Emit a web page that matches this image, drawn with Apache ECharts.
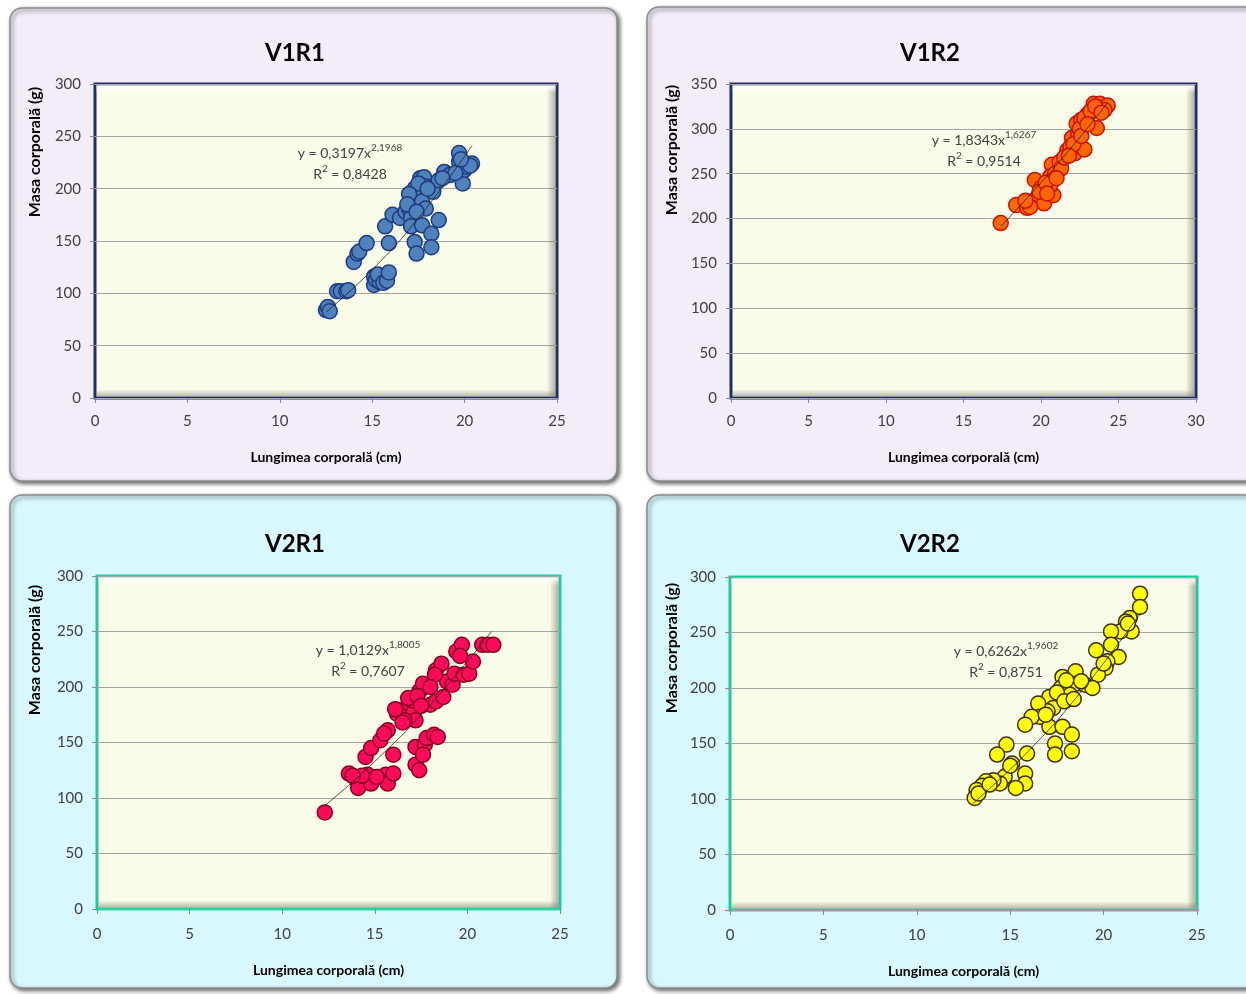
<!DOCTYPE html>
<html><head><meta charset="utf-8">
<script src="https://cdn.jsdelivr.net/npm/echarts@6/dist/echarts.min.js"></script>
<style>html,body{margin:0;padding:0;background:#fff}#c{width:1246px;height:994px}</style>
</head><body><div id="c"></div>
<script>
// ---------- DATA ----------
const panelTitles = ['V1R1', 'V1R2', 'V2R1', 'V2R2'];
const xAxisTitle = 'Lungimea corporală (cm)';
const yAxisTitle = 'Masa corporală (g)';
const xMax = [25, 30, 25, 25];
const yMax = [300, 350, 300, 300];
const eqA = ['0,3197', '1,8343', '1,0129', '0,6262'];
const eqB = ['2,1968', '1,6267', '1,8005', '1,9602'];
const r2 = ['0,8428', '0,9514', '0,7607', '0,8751'];

const v1r1 = [[12.5,84],[12.6,87],[12.7,83],[13.1,102],[13.3,102],[13.6,102],[13.7,103],[14.0,130],[14.2,138],[14.3,140],[14.7,148],[15.1,116],[15.1,108],[15.2,113],[15.4,111],[15.3,118],[15.6,110],[15.8,112],[15.9,120],[15.7,164],[15.9,148],[16.1,175],[16.5,172],[16.8,178],[17.0,181],[17.1,189],[17.1,172],[17.2,196],[17.3,149],[17.4,138],[17.1,164],[17.6,210],[17.8,211],[17.7,188],[17.9,181],[17.9,202],[17.7,165],[18.2,157],[18.2,144],[18.6,170],[18.3,197],[18.6,208],[18.9,216],[19.2,213],[19.7,234],[19.7,226],[19.9,205],[20.0,218],[20.4,224],[20.1,221],[17.3,200],[17.5,205],[17.0,195],[18.0,200],[19.5,215],[20.3,222],[16.9,185],[17.4,178],[19.8,228],[18.8,210]];
const v1r2 = [[17.4,195],[18.4,215],[19.1,212],[19.4,217],[19.7,222],[20.2,217],[20.8,226],[20.6,237],[19.6,243],[20.0,234],[20.7,260],[21.2,263],[21.7,276],[22.2,273],[22.8,277],[22.0,290],[22.4,295],[22.3,306],[22.6,310],[23.0,316],[23.4,328],[23.8,328],[24.3,326],[24.1,321],[23.6,301],[20.6,247],[19.3,213],[19.9,230],[20.3,240],[20.9,250],[21.3,256],[21.5,268],[21.9,280],[22.1,283],[22.5,300],[22.8,312],[23.2,320],[23.5,325],[23.9,318],[21.0,245],[20.4,228],[19.0,220],[21.8,270],[22.6,292],[23.0,305]];
const v2r1 = [[12.3,87],[13.6,122],[14.1,113],[14.1,109],[14.6,121],[14.8,113],[15.2,119],[15.6,121],[15.7,113],[16.0,122],[16.0,139],[14.5,137],[14.8,145],[15.3,152],[15.7,161],[15.5,158],[16.2,176],[16.4,179],[16.9,184],[17.1,178],[17.2,170],[17.0,188],[17.4,196],[17.6,203],[18.0,184],[18.3,187],[18.7,191],[18.3,215],[18.6,221],[18.9,205],[19.2,202],[19.3,212],[19.4,232],[19.7,238],[19.8,211],[20.1,212],[20.3,223],[20.8,238],[21.1,238],[21.4,238],[17.2,146],[17.2,130],[17.4,125],[17.7,148],[17.8,154],[18.2,157],[18.4,155],[17.6,139],[18.25,211],[16.6,170],[16.8,190],[17.3,192],[15.1,119],[14.3,120],[13.8,120],[16.1,180],[17.5,183],[19.6,228],[18.0,200],[16.5,168]];
const v2r2 = [[21.95,285],[21.95,273],[21.4,263],[21.2,260],[21.5,251],[20.9,251],[20.4,251],[20.4,239],[20.8,228],[20.2,224],[20.1,218],[19.6,234],[19.7,212],[18.5,215],[17.8,210],[18.1,204],[18.6,204],[19.0,203],[19.4,200],[17.7,200],[18.2,194],[17.1,192],[17.3,182],[17.0,179],[16.5,186],[16.6,174],[16.15,174],[15.8,167],[17.1,165],[17.8,165],[18.3,158],[17.4,150],[17.4,140],[18.3,143],[14.8,149],[14.3,140],[15.1,132],[15.9,141],[15.8,123],[15.8,114],[15.3,110],[14.7,120],[14.45,114],[14.1,117],[13.7,116],[13.5,112],[13.2,108],[13.1,101],[13.3,105],[13.9,113],[18.0,207],[18.8,206],[17.5,196],[17.9,188],[21.3,258],[20.0,222],[18.4,190],[16.9,176],[15.0,130]];

// trend curves (points along the power fit shown on the chart)
const trend1 = [[12.5,82],[15,122.5],[17.5,172],[20.4,241]];
const trend2 = [[17.4,191],[20,240],[22,280],[24.3,329]];
const trend3 = [[12.3,93],[15,133],[18,184],[21.3,250]];
const trend4 = [[13,96],[16,143.5],[19,201],[22,268]];

const seriesData = [v1r1, v1r2, v2r1, v2r2];
const trendData = [trend1, trend2, trend3, trend4];

// ---------- STYLE / LAYOUT ----------
const FONT = "Lato, 'Open Sans', sans-serif";
const grids = [
  {left:95, top:84, width:462, height:314},
  {left:731, top:84, width:465, height:314},
  {left:97, top:576, width:463, height:333},
  {left:730, top:577, width:467, height:333}
];
const panels = [
  {x:10, y:8, w:607, h:473, fill:'#f2edf9'},
  {x:647, y:7, w:610, h:474, fill:'#f2edf9'},
  {x:10, y:495, w:607, h:493, fill:'#d9f8fd'},
  {x:647, y:495, w:610, h:493, fill:'#d9f8fd'}
];
const borderCols = ['#1f2f6b', '#1f2f6b', '#22c9a0', '#22c9a0'];
const markerFill = ['#4f81bd', '#ff6600', '#ff0a5a', '#ffff00'];
const markerEdge = ['#1d3c80', '#cc1100', '#8a0022', '#3a3000'];
const titlePos = [[290,48],[925,48],[290,539],[925,539]];
const yTitlePos = [[35,152],[672,150],[35,650],[672,648]];
const eqPos = [[350,164],[984,151],[368,661],[1006,662]];

const chart = echarts.init(document.getElementById('c'), null, {renderer:'canvas'});

const graphic = [];
panels.forEach(p => {
  graphic.push({type:'rect', z:-10, shape:{x:p.x, y:p.y, width:p.w, height:p.h, r:12},
    style:{fill:p.fill, stroke:'#8c8c8c', lineWidth:1.5, shadowBlur:4, shadowOffsetX:2, shadowOffsetY:2, shadowColor:'rgba(0,0,0,0.6)'}});
});
grids.forEach((g, i) => {
  const b = 1.5;
  graphic.push({type:'rect', z:1, silent:true, shape:{x:g.left+g.width-b-9, y:g.top+b, width:9, height:g.height-2*b},
    style:{fill:new echarts.graphic.LinearGradient(0,0,1,0,[{offset:0,color:'rgba(120,120,100,0)'},{offset:1,color:'rgba(120,120,100,0.55)'}])}});
  graphic.push({type:'rect', z:1, silent:true, shape:{x:g.left+b, y:g.top+g.height-b-7, width:g.width-2*b, height:7},
    style:{fill:new echarts.graphic.LinearGradient(0,0,0,1,[{offset:0,color:'rgba(120,120,100,0)'},{offset:1,color:'rgba(120,120,100,0.5)'}])}});
  graphic.push({type:'rect', z:1, silent:true, shape:{x:g.left+b, y:g.top+b, width:g.width-2*b, height:8},
    style:{fill:new echarts.graphic.LinearGradient(0,0,0,1,[{offset:0,color:'rgba(255,255,255,0.95)'},{offset:1,color:'rgba(255,255,255,0)'}])}});
  graphic.push({type:'text', z:5, x:yTitlePos[i][0], y:yTitlePos[i][1], rotation:Math.PI/2,
    style:{text:yAxisTitle, font:"bold 16px " + FONT, fill:'#000', align:'center', verticalAlign:'middle'}});
  graphic.push({type:'text', z:5, x:eqPos[i][0], y:eqPos[i][1],
    style:{text:'y = ' + eqA[i] + 'x{s|' + eqB[i] + '}\nR{s|2} = ' + r2[i], font:"14px " + FONT, fill:'#404040',
      align:'center', verticalAlign:'middle', lineHeight:21,
      rich:{s:{fontSize:10, fontFamily:FONT, fill:'#404040', verticalAlign:'top', lineHeight:13}}}});
});

const option = {
  animation:false,
  backgroundColor:'#ffffff',
  textStyle:{fontFamily:FONT},
  title: panelTitles.map((t,i)=>({text:t, left:titlePos[i][0], top:titlePos[i][1], textAlign:'center', textVerticalAlign:'middle',
    textStyle:{fontFamily:FONT, fontWeight:'bold', fontSize:24, color:'#000'}})),
  grid: grids.map((g,i)=>Object.assign({show:true, backgroundColor:'#f9fce8', borderColor:borderCols[i], borderWidth:3, z:0}, g)),
  xAxis: grids.map((g,i)=>({type:'value', gridIndex:i, min:0, max:xMax[i], interval:5,
    name:xAxisTitle, nameLocation:'middle', nameGap:i<2?52:54, nameTextStyle:{fontFamily:FONT, fontWeight:'bold', fontSize:14, color:'#000'},
    axisLine:{show:false}, axisTick:{show:true, length:5, lineStyle:{color:'#888'}},
    axisLabel:{fontSize:15, color:'#404040', margin:i<2?16:18, fontFamily:FONT}, splitLine:{show:false}})),
  yAxis: grids.map((g,i)=>({type:'value', gridIndex:i, min:0, max:yMax[i], interval:50,
    axisLine:{show:false}, axisTick:{show:true, length:5, lineStyle:{color:'#888'}},
    axisLabel:{fontSize:15, color:'#404040', margin:14, fontFamily:FONT},
    splitLine:{show:true, lineStyle:{color:'#a6a6a6', width:1}}})),
  series: [].concat(
    seriesData.map((d,i)=>({type:'scatter', xAxisIndex:i, yAxisIndex:i, data:d, symbolSize:15, z:3,
      itemStyle:{color:markerFill[i], borderColor:markerEdge[i], borderWidth:1.5, opacity:1}})),
    trendData.map((d,i)=>({type:'line', xAxisIndex:i, yAxisIndex:i, data:d, smooth:true, showSymbol:false, z:4,
      lineStyle:{color:'#222', width:0.8}}))
  ),
  graphic: graphic
};
chart.setOption(option);
</script></body></html>
